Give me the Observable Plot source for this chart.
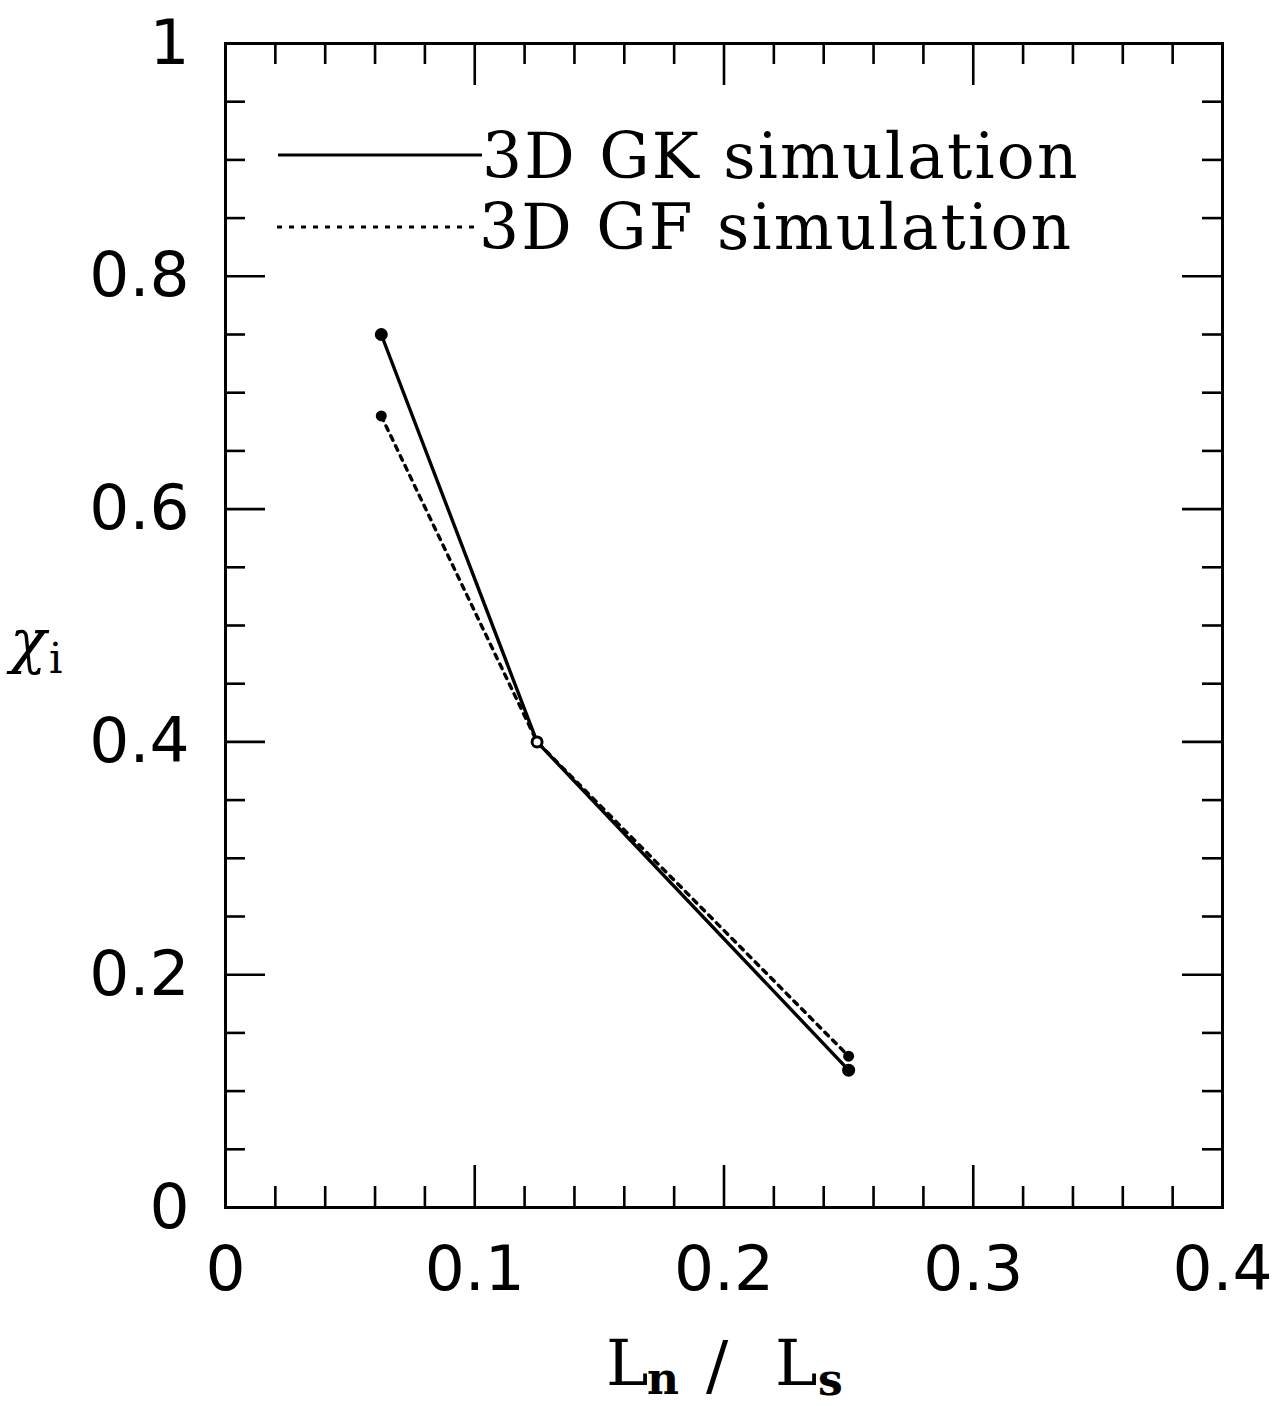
<!DOCTYPE html>
<html><head><meta charset="utf-8">
<script src="https://cdn.jsdelivr.net/npm/d3@7"></script>
<script src="https://cdn.jsdelivr.net/npm/@observablehq/plot@0.6"></script>
<style>body{margin:0;background:#fff}</style>
</head><body><div id="chart"></div>
<script>
// Data
const lnOverLs = [0.0625, 0.125, 0.25];
const chiGK = [0.75, 0.40, 0.118];
const chiGF = [0.68, 0.40, 0.13];
const seriesNames = ["3D GK simulation", "3D GF simulation"];

// Axis ticks
const xTickValues = [0, 0.1, 0.2, 0.3, 0.4];
const xTickLabels = ["0", "0.1", "0.2", "0.3", "0.4"];
const yTickValues = [0, 0.2, 0.4, 0.6, 0.8, 1];
const yTickLabels = ["0", "0.2", "0.4", "0.6", "0.8", "1"];
const xMajor = [0.1, 0.2, 0.3];
const xMinor = [0.02, 0.04, 0.06, 0.08, 0.12, 0.14, 0.16, 0.18, 0.22, 0.24, 0.26, 0.28, 0.32, 0.34, 0.36, 0.38];
const yMajor = [0.2, 0.4, 0.6, 0.8];
const yMinor = [0.05, 0.1, 0.15, 0.25, 0.3, 0.35, 0.45, 0.5, 0.55, 0.65, 0.7, 0.75, 0.85, 0.9, 0.95];

const W = 1276, H = 1406;
const mL = 225, mR = 54, mT = 43, mB = 199;
const innerW = W - mL - mR, innerH = H - mT - mB;

const gk = lnOverLs.map((x, i) => ({x, y: chiGK[i]}));
const gf = lnOverLs.map((x, i) => ({x, y: chiGF[i]}));
const xLab = new Map(xTickValues.map((v, i) => [v, xTickLabels[i]]));
const yLab = new Map(yTickValues.map((v, i) => [v, yTickLabels[i]]));

const tw = 2.6;
const chart = Plot.plot({
  width: W, height: H,
  marginLeft: mL, marginRight: mR, marginTop: mT, marginBottom: mB,
  style: {fontFamily: "DejaVu Sans", fontSize: "63px", background: "#fff", color: "#000"},
  x: {domain: [0, 0.4]},
  y: {domain: [0, 1]},
  marks: [
    Plot.axisX({ticks: xTickValues, tickFormat: d => xLab.get(d), tickSize: 0, tickPadding: 38, label: null, fontSize: 63}),
    Plot.axisY({ticks: yTickValues, tickFormat: d => yLab.get(d), tickSize: 0, tickPadding: 36, label: null, fontSize: 63}),
    // bottom / top ticks
    Plot.tickX(xMajor, {x: d => d, insetTop: innerH - 42, strokeWidth: tw}),
    Plot.tickX(xMinor, {x: d => d, insetTop: innerH - 21, strokeWidth: tw}),
    Plot.tickX(xMajor, {x: d => d, insetBottom: innerH - 42, strokeWidth: tw}),
    Plot.tickX(xMinor, {x: d => d, insetBottom: innerH - 21, strokeWidth: tw}),
    // left / right ticks
    Plot.tickY(yMajor, {y: d => d, insetRight: innerW - 40, strokeWidth: tw}),
    Plot.tickY(yMinor, {y: d => d, insetRight: innerW - 20, strokeWidth: tw}),
    Plot.tickY(yMajor, {y: d => d, insetLeft: innerW - 40, strokeWidth: tw}),
    Plot.tickY(yMinor, {y: d => d, insetLeft: innerW - 20, strokeWidth: tw}),
    Plot.frame({strokeWidth: 3}),
    Plot.line(gk, {x: "x", y: "y", stroke: "black", strokeWidth: 3.4}),
    Plot.line(gf, {x: "x", y: "y", stroke: "black", strokeWidth: 3.4, strokeDasharray: "5,6"}),
    Plot.dot([gk[0], gk[2]], {x: "x", y: "y", r: 6.5, fill: "black"}),
    Plot.dot([gf[0], gf[2]], {x: "x", y: "y", r: 5.5, fill: "black"}),
    Plot.dot([gk[1]], {x: "x", y: "y", r: 5, fill: "white", stroke: "black", strokeWidth: 3})
  ]
});
document.getElementById("chart").appendChild(chart);

const svg = d3.select(chart);
// Legend
const leg = svg.append("g").attr("text-anchor", "start");
leg.append("line").attr("x1", 278).attr("x2", 482).attr("y1", 155).attr("y2", 155)
  .attr("stroke", "black").attr("stroke-width", 3);
leg.append("line").attr("x1", 277).attr("x2", 474).attr("y1", 227).attr("y2", 227)
  .attr("stroke", "black").attr("stroke-width", 3).attr("stroke-dasharray", "5,7");
leg.append("text").attr("x", 482).attr("y", 178).text(seriesNames[0])
  .attr("font-family", "DejaVu Serif").attr("font-size", 63).attr("letter-spacing", 2.2).attr("fill", "black");
leg.append("text").attr("x", 479).attr("y", 249).text(seriesNames[1])
  .attr("font-family", "DejaVu Serif").attr("font-size", 63).attr("letter-spacing", 2.2).attr("fill", "black");

// X axis label: L_n / L_s
const xl = svg.append("g").attr("font-family", "DejaVu Serif").attr("fill", "black").attr("text-anchor", "start");
xl.append("text").attr("x", 606).attr("y", 1385).attr("font-size", 64).text("L");
xl.append("text").attr("x", 647).attr("y", 1394).attr("font-size", 44).attr("font-weight", "bold").text("n");
xl.append("text").attr("x", 706).attr("y", 1388).attr("font-size", 66).text("/");
xl.append("text").attr("x", 775).attr("y", 1385).attr("font-size", 64).text("L");
xl.append("text").attr("x", 818).attr("y", 1395).attr("font-size", 44).attr("font-weight", "bold").text("s");

// Y axis label: chi_i
const yl = svg.append("g").attr("font-family", "DejaVu Serif").attr("fill", "black").attr("text-anchor", "start");
yl.append("text").attr("x", 10).attr("y", 662).attr("font-size", 60).attr("font-style", "italic").text("χ");
yl.append("text").attr("x", 49).attr("y", 673).attr("font-size", 42).text("i");
</script>
</body></html>
